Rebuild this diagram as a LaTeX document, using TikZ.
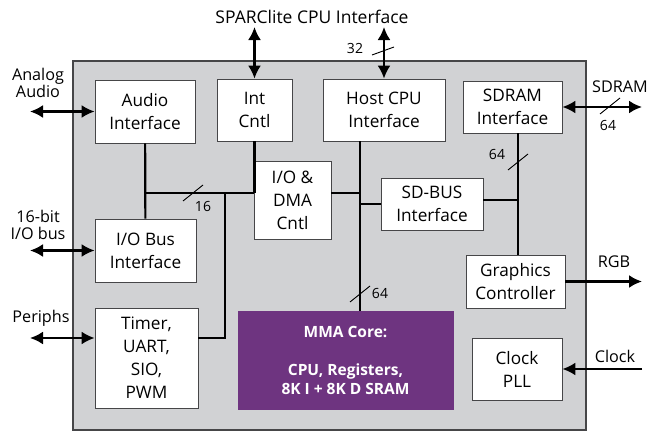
\documentclass[tikz,border=0pt]{standalone}
\usepackage{fontspec}
\setmainfont{Open Sans}
\usetikzlibrary{arrows.meta,calc}
\definecolor{ChipClr}{RGB}{209,210,212}
\definecolor{CoreClr}{RGB}{110,52,128}
\definecolor{EdgeClr}{RGB}{70,70,72}
\newcommand{\BlockFont}{\fontsize{17.2}{23}\selectfont}
\newcommand{\PinFont}{\fontsize{16.2}{16.5}\selectfont}
\newcommand{\WidthFont}{\fontsize{14}{15}\selectfont}
\newcommand{\BusSlash}[1]{\draw[line width=0.9pt] ($#1+(-10,8)$) -- ($#1+(10,-8)$);}
\newcommand{\BusWidth}[2]{\node[font=\WidthFont,inner sep=0pt] at #1 {#2};}

\begin{document}
\begin{tikzpicture}[x=1pt,y=-1pt,
  blk/.style={draw=EdgeClr,fill=white,line width=0.8pt,align=center,inner sep=0pt,font=\BlockFont},
  pin/.style={align=center,inner sep=0pt,font=\PinFont},
  bus/.style={line width=2.2pt},
  io/.style={bus,{Latex[length=13pt,width=13pt]}-{Latex[length=13pt,width=13pt]}},
  oneway/.style={bus,-{Latex[length=13pt,width=13pt]}}]
\useasboundingbox (0,0) rectangle (654,439);
\draw[EdgeClr,fill=ChipClr,line width=1.2pt] (73,61) rectangle (586,430);
\node[blk,minimum width=100pt,minimum height=63pt] (audio) at (145,111.5) {Audio\\Interface};
\node[blk,minimum width=75pt,minimum height=62pt] (int) at (254.5,110) {Int\\Cntl};
\node[blk,minimum width=122pt,minimum height=62pt] (host) at (384,110) {Host CPU\\Interface};
\node[blk,minimum width=99pt,minimum height=52pt] (sdram) at (512.5,107) {SDRAM\\Interface};
\node[blk,minimum width=77pt,minimum height=78pt] (iodma) at (292.5,200) {I/O \&\\DMA\\Cntl};
\node[blk,minimum width=102pt,minimum height=52pt] (sdbus) at (432,204) {SD-BUS\\Interface};
\node[blk,minimum width=101pt,minimum height=63pt] (iobus) at (145.5,250.5) {I/O Bus\\Interface};
\node[blk,minimum width=103pt,minimum height=100pt] (timer) at (146.5,358) {Timer,\\UART,\\SIO,\\PWM};
\node[blk,minimum width=99pt,minimum height=53pt] (gfx) at (515.5,281.5) {Graphics\\Controller};
\node[blk,minimum width=90pt,minimum height=62pt] (clk) at (517,369) {Clock\\PLL};
\node[blk,draw=CoreClr,fill=CoreClr,text=white,font=\fontsize{15.5}{19}\selectfont\bfseries,
  minimum width=215pt,minimum height=98pt] (mma) at (345.5,360) {MMA Core:\\[19pt]CPU, Registers,\\8K I + 8K D SRAM};
\node[pin,font=\fontsize{17.5}{18}\selectfont] (spl) at (312,17) {SPARClite CPU Interface};
\node[pin] (aalbl) at (38,83) {Analog\\Audio};
\node[pin] (iolbl) at (38,225) {16-bit\\I/O bus};
\node[pin] (perlbl) at (41,318) {Periphs};
\node[pin] (sdlbl) at (620,87) {SDRAM};
\node[pin] (rgblbl) at (614,262) {RGB};
\node[pin] (clklbl) at (615,356) {Clock};
\coordinate (spin) at (254.5,27);
\coordinate (hostin) at (384,27);
\coordinate (aain) at (30,111.5);
\coordinate (ioin) at (30,250.5);
\coordinate (perin) at (30,338);
\coordinate (sdout) at (642,107);
\coordinate (rgbout) at (642,281.5);
\coordinate (clkin) at (642,369);
\coordinate (lbus) at (145,193);
\coordinate (tj) at (225,338);
\coordinate (hb) at (360,193);
\coordinate (sb) at (518,200);
\draw[bus] (audio) -- (iobus);
\draw[bus] (lbus) -- (lbus -| iodma.west);
\draw[bus] (int) -- (int |- lbus);
\draw[bus] (lbus -| tj) -- (tj) -- (tj -| timer.east);
\draw[bus] (hb |- host.south) -- (hb |- mma.north);
\draw[bus] (hb -| iodma.east) -- (hb);
\draw[bus] (sdbus.west) -- (sdbus.west -| hb);
\draw[bus] (sb |- sdram.south) -- (sb |- gfx.north);
\draw[bus] (sb -| sdbus.east) -- (sb);
\draw[io] (spin) -- (int);
\draw[io] (hostin) -- (host);
\draw[io] (aain) -- (audio);
\draw[io] (ioin) -- (iobus);
\draw[io] (perin) -- (perin -| timer.west);
\draw[io] (sdram) -- (sdout);
\draw[oneway] (gfx) -- (rgbout);
\draw[oneway] (clkin) -- (clk);
\BusSlash{(193,193)}
\BusSlash{(360,294)}
\BusSlash{(518,162)}
\BusSlash{(610,106)}
\draw[line width=0.9pt] (372,55) -- (394,47);
\BusWidth{(203,206)}{16}
\BusWidth{(380,293)}{64}
\BusWidth{(497,154)}{64}
\BusWidth{(608,125)}{64}
\BusWidth{(355,48)}{32}
\end{tikzpicture}
\end{document}
